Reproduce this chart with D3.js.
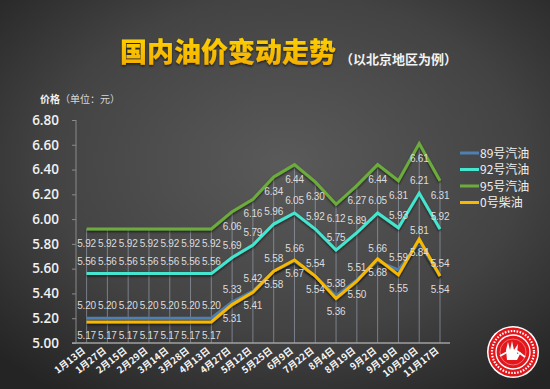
<!DOCTYPE html>
<html>
<head>
<meta charset="utf-8">
<script src="https://cdn.jsdelivr.net/npm/d3@7"></script>
<style>
  body { margin: 0; background: #2a2a2a; }
  svg { display: block; }
</style>
</head>
<body>
<div id="chart"></div>
<script>
// chart data
const dates = ["1月13日", "1月27日", "2月15日", "2月29日", "3月14日", "3月28日", "4月13日",
  "4月27日", "5月12日", "5月25日", "6月9日", "7月22日", "8月4日", "8月19日",
  "9月2日", "9月19日", "10月20日", "11月17日"];
const gas89 = [5.20, 5.20, 5.20, 5.20, 5.20, 5.20, 5.20, 5.33, 5.42, 5.58, 5.66, 5.54, 5.38, 5.51, 5.66, 5.59, 5.81, 5.54];
const gas92 = [5.56, 5.56, 5.56, 5.56, 5.56, 5.56, 5.56, 5.69, 5.79, 5.96, 6.05, 5.92, 5.75, 5.89, 6.05, 5.93, 6.21, 5.92];
const gas95 = [5.92, 5.92, 5.92, 5.92, 5.92, 5.92, 5.92, 6.06, 6.16, 6.34, 6.44, 6.30, 6.12, 6.27, 6.44, 6.31, 6.61, 6.31];
const diesel0 = [5.17, 5.17, 5.17, 5.17, 5.17, 5.17, 5.17, 5.31, 5.41, 5.58, 5.67, 5.54, 5.36, 5.50, 5.68, 5.55, 5.84, 5.54];
const seriesNames = ["89号汽油", "92号汽油", "95号汽油", "0号柴油"];
const yTicks = [5.00, 5.20, 5.40, 5.60, 5.80, 6.00, 6.20, 6.40, 6.60, 6.80];

const W = 550, H = 389;

const svg = d3.select("#chart").append("svg")
  .attr("width", W)
  .attr("height", H);

const defs = svg.append("defs");

// dark radial background
const bg = defs.append("radialGradient")
  .attr("id", "bg")
  .attr("cx", "52%").attr("cy", "42%").attr("r", "72%");
bg.append("stop").attr("offset", "0%").attr("stop-color", "#5a5a5a");
bg.append("stop").attr("offset", "60%").attr("stop-color", "#434343");
bg.append("stop").attr("offset", "100%").attr("stop-color", "#242424");

const titleGrad = defs.append("linearGradient")
  .attr("id", "titleGrad").attr("x1", 0).attr("y1", 0).attr("x2", 0).attr("y2", 1);
titleGrad.append("stop").attr("offset", "0%").attr("stop-color", "#ffd800");
titleGrad.append("stop").attr("offset", "100%").attr("stop-color", "#f2a900");

const shadow = defs.append("filter").attr("id", "shadow")
  .attr("x", "-10%").attr("y", "-10%").attr("width", "120%").attr("height", "140%");
shadow.append("feDropShadow")
  .attr("dx", 0).attr("dy", 1.5).attr("stdDeviation", 1)
  .attr("flood-color", "#000").attr("flood-opacity", 0.6);

svg.append("rect")
  .attr("width", W).attr("height", H)
  .attr("fill", "url(#bg)");

// title
svg.append("text")
  .attr("x", 120).attr("y", 62)
  .attr("font-family", "'Noto Sans CJK SC'")
  .attr("font-weight", 900)
  .attr("font-size", 27)
  .attr("fill", "url(#titleGrad)")
  .attr("filter", "url(#shadow)")
  .text("国内油价变动走势");

svg.append("text")
  .attr("x", 340).attr("y", 64)
  .attr("font-family", "'Noto Sans CJK SC'")
  .attr("font-weight", 700)
  .attr("font-size", 13)
  .attr("fill", "#f2f2f2")
  .text("（以北京地区为例）");

// unit label
const unit = svg.append("text")
  .attr("x", 40).attr("y", 103)
  .attr("font-family", "'Noto Sans CJK SC'")
  .attr("font-size", 10)
  .attr("fill", "#d8d8d8");
unit.append("tspan").attr("font-weight", 700).attr("fill", "#f0f0f0").text("价格");
unit.append("tspan").text("（单位：元）");

// scales
const x = d3.scalePoint()
  .domain(dates)
  .range([86.6, 440]);

const y = d3.scaleLinear()
  .domain([5, 6.8])
  .range([343, 120]);

const series = [
  { name: seriesNames[0], values: gas89, color: "#4f7fb3", dy: -9 },
  { name: seriesNames[1], values: gas92, color: "#45e6cf", dy: -9 },
  { name: seriesNames[2], values: gas95, color: "#6cac3c", dy: 18 },
  { name: seriesNames[3], values: diesel0, color: "#f6b800", dy: 17 }
];

// drop lines from the top series down to the axis
svg.append("g")
  .selectAll("line")
  .data(dates)
  .join("line")
  .attr("x1", d => x(d)).attr("x2", d => x(d))
  .attr("y1", (d, i) => y(Math.max(gas95[i], gas92[i], gas89[i], diesel0[i])))
  .attr("y2", y(5))
  .attr("stroke", "#aab4c4")
  .attr("stroke-opacity", 0.55)
  .attr("stroke-width", 1);

// y axis
const yAxis = d3.axisLeft(y)
  .tickValues(yTicks)
  .tickFormat(d3.format(".2f"))
  .tickSize(4)
  .tickPadding(13);

const yg = svg.append("g")
  .attr("transform", "translate(76,0)")
  .call(yAxis);
yg.select(".domain").attr("stroke", "#8a8a8a").attr("d", "M0,120V343");
yg.selectAll(".tick line").attr("stroke", "#8a8a8a");
yg.selectAll(".tick text")
  .attr("fill", "#f0f0f0")
  .attr("font-family", "'Open Sans'")
  .attr("font-weight", 600)
  .attr("font-size", 13.5);

// x axis
const xAxis = d3.axisBottom(x).tickSize(0).tickPadding(0);
const xg = svg.append("g")
  .attr("transform", "translate(0,343)")
  .call(xAxis);
xg.select(".domain").attr("stroke", "#a0a0a0").attr("stroke-width", 1.5).attr("d", "M72,0H450");
xg.selectAll(".tick text")
  .attr("fill", "#f4f4f4")
  .attr("font-family", "'Noto Sans CJK SC'")
  .attr("font-weight", 700)
  .attr("font-size", 9.5)
  .attr("text-anchor", "end")
  .attr("dy", 0)
  .attr("transform", "translate(-1,9) rotate(-38)");

// lines
const line = d3.line()
  .x((d, i) => x(dates[i]))
  .y(d => y(d));

const drawOrder = [2, 1, 0, 3];
svg.append("g")
  .selectAll("path")
  .data(drawOrder.map(i => series[i]))
  .join("path")
  .attr("d", d => line(d.values))
  .attr("fill", "none")
  .attr("stroke", d => d.color)
  .attr("stroke-width", 3)
  .attr("stroke-linejoin", "miter")
  .attr("filter", "url(#shadow)");

// value labels
series.forEach(s => {
  svg.append("g")
    .selectAll("text")
    .data(s.values)
    .join("text")
    .attr("x", (d, i) => x(dates[i]))
    .attr("y", d => y(d) + s.dy)
    .attr("text-anchor", "middle")
    .attr("font-family", "'Liberation Sans'")
    .attr("font-size", 10)
    .attr("letter-spacing", -0.2)
    .attr("fill", "#dcdcdc")
    .text(d => d3.format(".2f")(d));
});

// legend
const legend = svg.append("g")
  .selectAll("g")
  .data(series)
  .join("g")
  .attr("transform", (d, i) => `translate(460,${153 + i * 16.5})`);
legend.append("line")
  .attr("x1", 0).attr("x2", 19)
  .attr("stroke", d => d.color)
  .attr("stroke-width", 3);
legend.append("text")
  .attr("x", 20).attr("y", 4.5)
  .attr("font-family", "'Noto Sans CJK SC'")
  .attr("font-size", 12)
  .attr("fill", "#f0f0f0")
  .text(d => d.name);

// logo stamp in the corner
const logo = svg.append("g").attr("transform", "translate(513,352)");
logo.append("circle").attr("r", 26).attr("fill", "#fff");
logo.append("circle").attr("r", 24.5).attr("fill", "#e2161b");
logo.append("circle").attr("r", 17).attr("fill", "none").attr("stroke", "#fff").attr("stroke-width", 1.3);
logo.append("circle").attr("r", 13).attr("fill", "none").attr("stroke", "#f6b0b0").attr("stroke-width", 0.6);
logo.append("path")
  .attr("d", "M-6,8 L-7,-2 L-5,-10 L-3,-2 L-1,-11 L1,-2 L5,-8 L4,2 L8,0 L4,8 Z")
  .attr("fill", "#fff");
logo.append("path")
  .attr("d", "M-13,4 L-4,-1 M4,-1 L12,5")
  .attr("stroke", "#fff").attr("stroke-width", 2);
logo.append("circle").attr("r", 21).attr("fill", "none")
  .attr("stroke", "#fff").attr("stroke-width", 2.2)
  .attr("stroke-dasharray", "1.6 1.4");
</script>
</body>
</html>
